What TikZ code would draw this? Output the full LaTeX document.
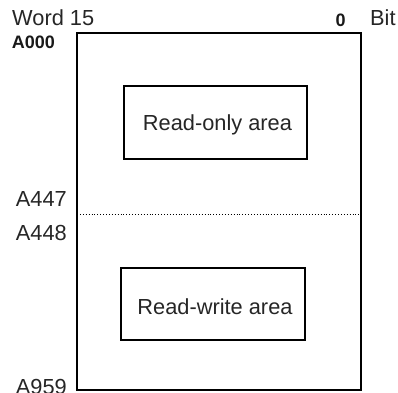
\documentclass[tikz,border=0pt]{standalone}
\usepackage{fontspec}
\setmainfont{Liberation Sans}
\begin{document}
\begin{tikzpicture}[x=1pt,y=-1pt,
  lbl/.style={anchor=base,inner sep=0pt,font=\fontsize{21.8}{24}\selectfont,text=black!85},
  small/.style={anchor=base,inner sep=0pt,font=\fontsize{18}{20}\selectfont\bfseries,text=black!90},
  areabox/.style={draw,line width=2pt},
  outerbox/.style={draw,line width=1.5pt}]
\useasboundingbox (0,0) rectangle (398,392);
\node[outerbox,minimum width=284pt,minimum height=357pt,inner sep=0pt] (mem) at (219,211.5) {};
\node[areabox,minimum width=183pt,minimum height=73pt,inner sep=0pt] (ro) at (215.5,122.5) {};
\node[lbl] (rot) at (217.5,130) {Read-only area};
\node[areabox,minimum width=184pt,minimum height=72pt,inner sep=0pt] (rw) at (213,304) {};
\node[lbl] (rwt) at (215,314) {Read-write area};
\coordinate (dl) at (77,214.5);
\coordinate (dr) at (361,214.5);
\draw[dotted,line width=0.9pt] (dl) -- (dr);
\node[lbl,anchor=base west] (word) at (12,25) {Word 15};
\node[small,anchor=base] (zero) at (340.5,26) {0};
\node[lbl,anchor=base west] (bit) at (370,25) {Bit};
\node[small,anchor=base east] (a000) at (55,48) {A000};
\node[lbl,anchor=base east] (a447) at (67,206) {A447};
\node[lbl,anchor=base east] (a448) at (67,240) {A448};
\node[lbl,anchor=base east] (a959) at (67,394) {A959};
\end{tikzpicture}
\end{document}
